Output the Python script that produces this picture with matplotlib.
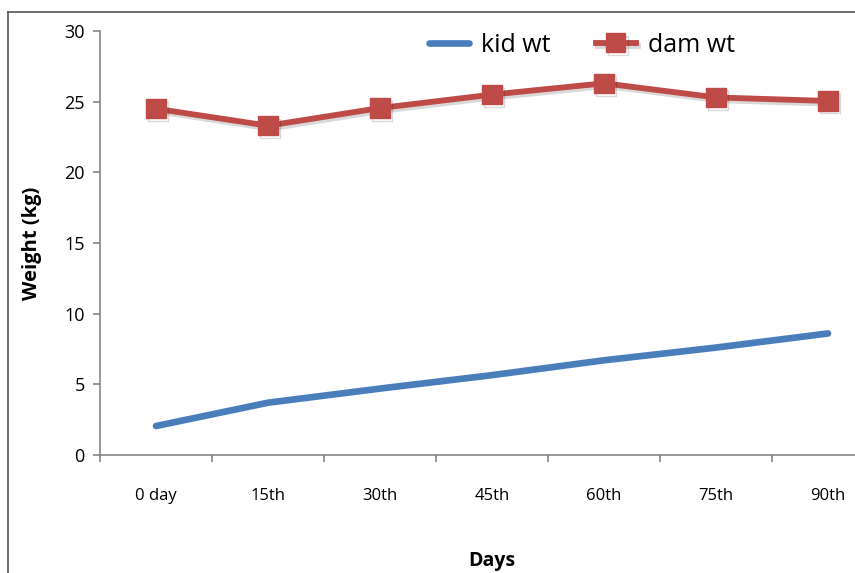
import matplotlib.pyplot as plt
import matplotlib.patheffects as pe
from matplotlib.lines import Line2D

days = ['0 day', '15th', '30th', '45th', '60th', '75th', '90th']
kid_wt = [2.05, 3.7, 4.7, 5.65, 6.7, 7.6, 8.6]
dam_wt = [24.5, 23.3, 24.55, 25.5, 26.3, 25.3, 25.05]

plt.rcParams['font.family'] = ['Open Sans', 'DejaVu Sans']

fig = plt.figure(figsize=(8.55, 5.73), dpi=100)
W, H = 855, 573
ax = fig.add_axes([100 / W, 118 / H, 784 / W, 424 / H])

# outer chart frame (left and top edges visible)
fig.add_artist(Line2D([8 / W, 8 / W], [0, 1 - 12 / H], color='#555555', lw=1.2))
fig.add_artist(Line2D([8 / W, 1], [1 - 12 / H, 1 - 12 / H], color='#555555', lw=1.2))

x = range(len(days))
shadow = [pe.SimpleLineShadow(offset=(1.5, -2), alpha=0.15), pe.Normal()]
ax.plot(x, kid_wt, color='#4A7EBB', lw=4.8, solid_capstyle='round', label='kid wt')
ax.plot(x, dam_wt, color='#BE4B48', lw=4.2, marker='s', markersize=14,
        markeredgecolor='#BE4B48', label='dam wt', path_effects=shadow)

ax.set_xlim(-0.5, len(days) - 0.5)
ax.set_ylim(0, 30)
ax.set_yticks(range(0, 31, 5))
ax.set_xticks(x)
ax.set_xticklabels(days, fontsize=12)
ax.set_xticks([i - 0.5 for i in range(len(days) + 1)], minor=True)
ax.tick_params(axis='x', which='major', length=0, pad=24)
ax.tick_params(axis='x', which='minor', length=5, color='#868686', width=1.2)
ax.tick_params(axis='y', length=5, color='#868686', width=1.2, labelsize=13, pad=6)

for s in ['top', 'right']:
    ax.spines[s].set_visible(False)
for s in ['left', 'bottom']:
    ax.spines[s].set_color('#868686')
    ax.spines[s].set_linewidth(1.2)

ax.set_ylabel('Weight (kg)', fontsize=14.5, fontweight='bold', labelpad=16)
fig.text(492 / W, 1 - 561 / H, 'Days', fontsize=14, fontweight='bold',
         ha='center', va='center')

ax.legend(loc='center', bbox_to_anchor=(582 / W, 1 - 45 / H), bbox_transform=fig.transFigure,
          ncol=2, frameon=False, fontsize=18, handlelength=1.6, columnspacing=1.8,
          handletextpad=0.5)

fig.savefig('out.png', dpi=100)
